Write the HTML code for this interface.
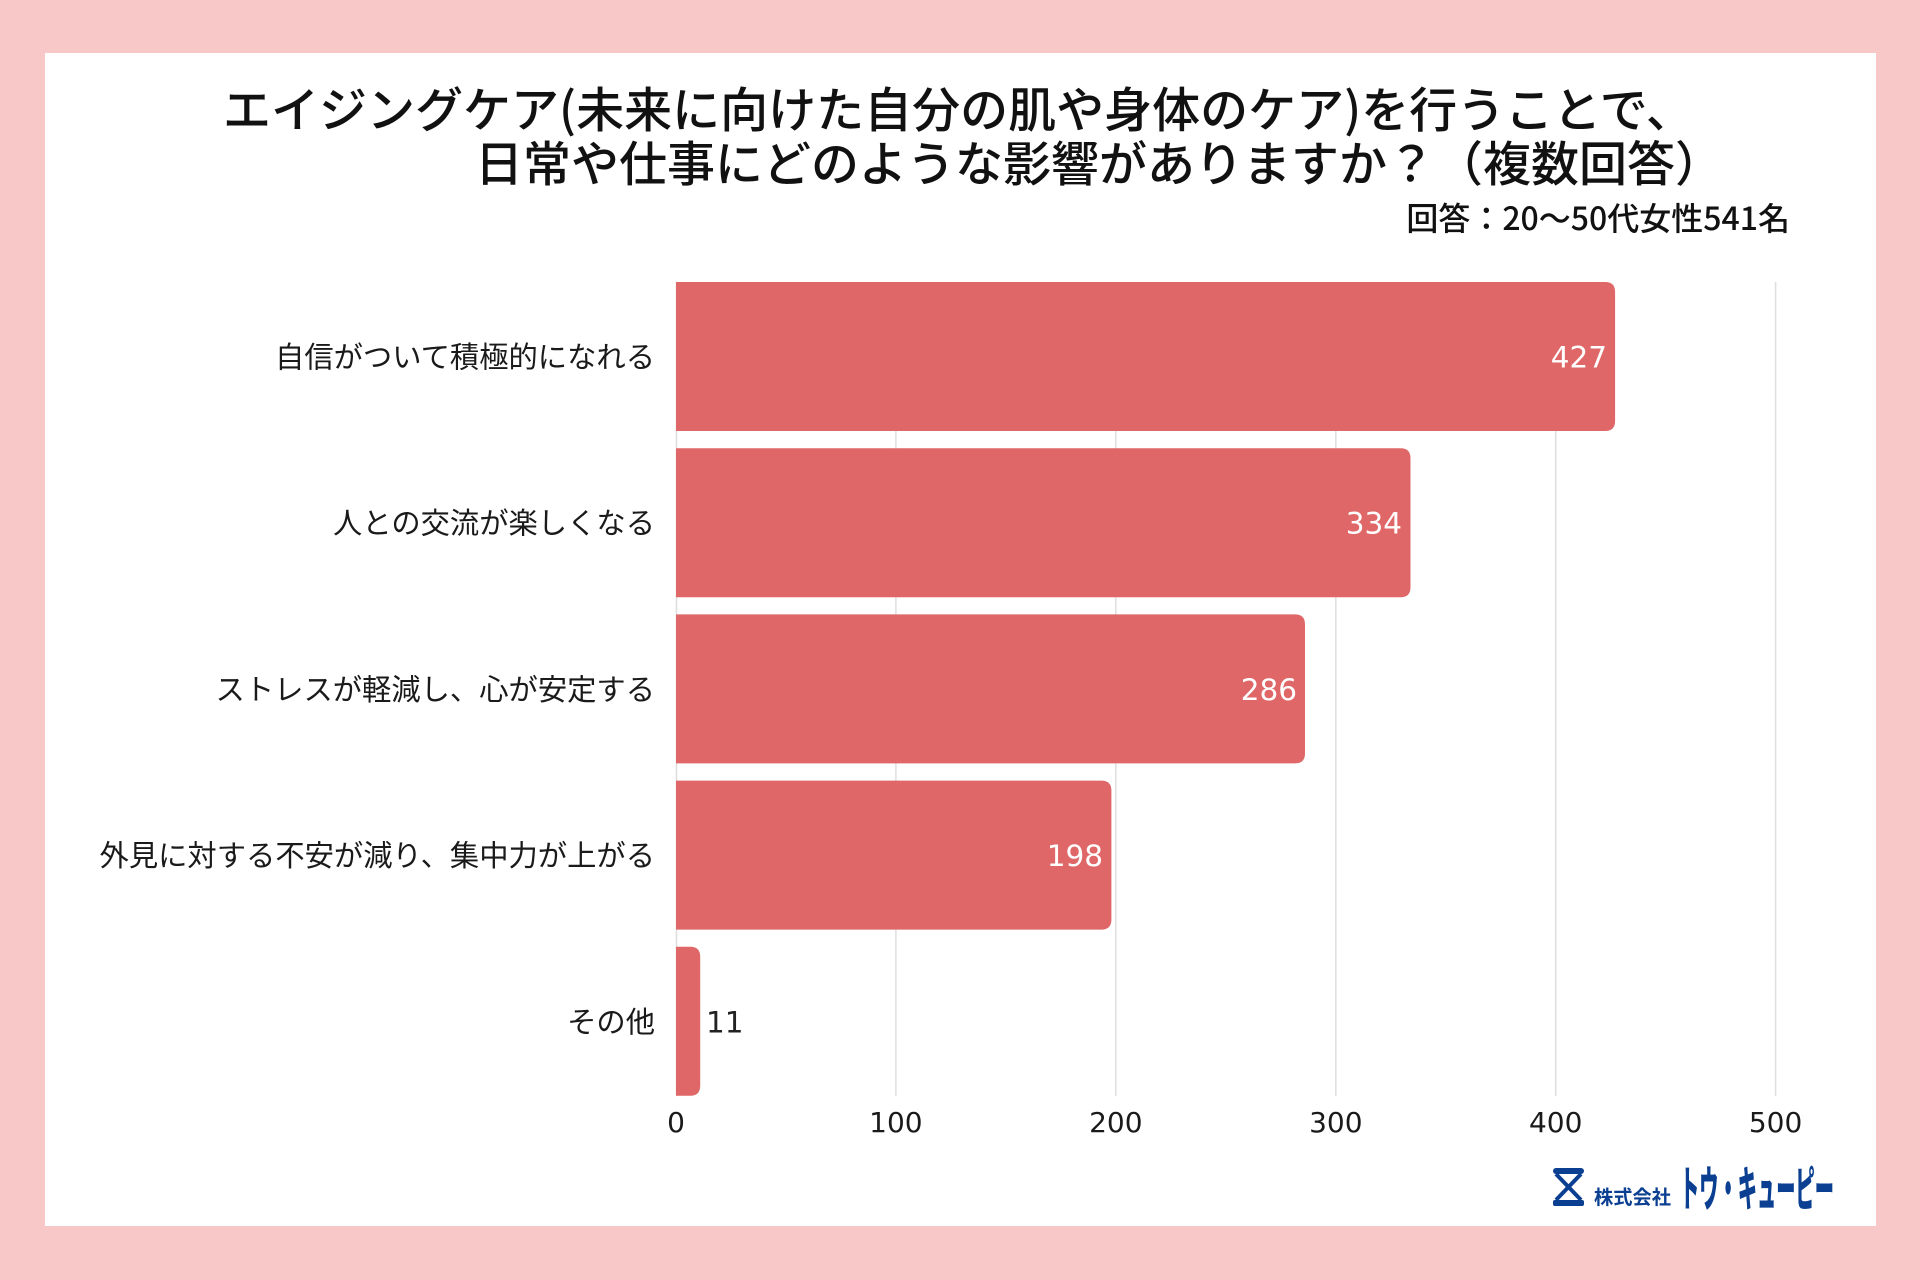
<!DOCTYPE html>
<html>
<head>
<meta charset="utf-8">
<style>
  html, body { margin: 0; padding: 0; background: #F8C8C9; }
  svg { display: block; }
  text { font-family: "Liberation Sans", "Noto Sans CJK JP", sans-serif; }
  .jp { font-family: "Noto Sans CJK JP", "Liberation Sans", sans-serif; }
  .num { font-family: "DejaVu Sans", "Liberation Sans", sans-serif; }
</style>
</head>
<body>
<svg width="1920" height="1280" viewBox="0 0 1920 1280" xmlns="http://www.w3.org/2000/svg">
  <rect x="0" y="0" width="1920" height="1280" fill="#F8C8C9"/>
  <rect x="45" y="53" width="1831" height="1173" fill="#FFFFFF"/>

  <!-- Title -->
  <text class="jp" x="223" y="127" font-size="48" font-weight="500" fill="#111">エイジングケア(未来に向けた自分の肌や身体のケア)を行うことで、</text>
  <text class="jp" x="475" y="181" font-size="48" font-weight="500" fill="#111">日常や仕事にどのような影響がありますか？（複数回答）</text>
  <text class="jp" x="1790" y="230" font-size="32" font-weight="500" fill="#111" text-anchor="end">回答：20〜50代女性541名</text>

  <!-- Gridlines -->
  <g stroke="#DEDEDE" stroke-width="1.5">
    <line x1="676.5" y1="282" x2="676.5" y2="1096"/>
    <line x1="895.9" y1="282" x2="895.9" y2="1096"/>
    <line x1="1115.8" y1="282" x2="1115.8" y2="1096"/>
    <line x1="1335.8" y1="282" x2="1335.8" y2="1096"/>
    <line x1="1555.7" y1="282" x2="1555.7" y2="1096"/>
    <line x1="1775.6" y1="282" x2="1775.6" y2="1096"/>
  </g>

  <!-- Bars -->
  <g fill="#DF6767">
    <path d="M676,282 H1605.1 Q1615.1,282 1615.1,292 V421 Q1615.1,431 1605.1,431 H676 Z"/>
    <path d="M676,448.2 H1400.5 Q1410.5,448.2 1410.5,458.2 V587.2 Q1410.5,597.2 1400.5,597.2 H676 Z"/>
    <path d="M676,614.4 H1295 Q1305,614.4 1305,624.4 V753.4 Q1305,763.4 1295,763.4 H676 Z"/>
    <path d="M676,780.6 H1101.4 Q1111.4,780.6 1111.4,790.6 V919.6 Q1111.4,929.6 1101.4,929.6 H676 Z"/>
    <path d="M676,946.8 H690.2 Q700.2,946.8 700.2,956.8 V1085.8 Q700.2,1095.8 690.2,1095.8 H676 Z"/>
  </g>

  <!-- Value labels -->
  <g font-size="29.5" font-weight="400">
    <text class="num" x="1607" y="367.5" fill="#FFFFFF" text-anchor="end">427</text>
    <text class="num" x="1402" y="533.7" fill="#FFFFFF" text-anchor="end">334</text>
    <text class="num" x="1297" y="699.9" fill="#FFFFFF" text-anchor="end">286</text>
    <text class="num" x="1103" y="866.1" fill="#FFFFFF" text-anchor="end">198</text>
    <text class="num" x="706" y="1032.3" fill="#222222">11</text>
  </g>

  <!-- Category labels -->
  <g font-size="29.3" font-weight="400" fill="#1a1a1a" text-anchor="end">
    <text class="jp" x="655" y="367.5">自信がついて積極的になれる</text>
    <text class="jp" x="655" y="533.7">人との交流が楽しくなる</text>
    <text class="jp" x="655" y="699.9">ストレスが軽減し、心が安定する</text>
    <text class="jp" x="655" y="866.1">外見に対する不安が減り、集中力が上がる</text>
    <text class="jp" x="655" y="1032.3">その他</text>
  </g>

  <!-- X axis tick labels -->
  <g font-size="28" font-weight="400" fill="#1a1a1a" text-anchor="middle">
    <text class="num" x="676" y="1132">0</text>
    <text class="num" x="895.9" y="1132">100</text>
    <text class="num" x="1115.8" y="1132">200</text>
    <text class="num" x="1335.8" y="1132">300</text>
    <text class="num" x="1555.7" y="1132">400</text>
    <text class="num" x="1775.6" y="1132">500</text>
  </g>

  <!-- Logo -->
  <g fill="#0B3F91" stroke="none">
    <rect x="1553" y="1168" width="31" height="6" rx="3"/>
    <rect x="1553" y="1200" width="31" height="6" rx="2"/>
    <path d="M1556,1174 L1581,1200" stroke="#0B3F91" stroke-width="4" fill="none"/>
    <path d="M1581,1174 L1556,1200" stroke="#0B3F91" stroke-width="4" fill="none"/>
  </g>
  <text class="jp" x="1594" y="1204" font-size="19.5" font-weight="700" fill="#0B3F91" textLength="77" lengthAdjust="spacingAndGlyphs">株式会社</text>
  <text class="jp" x="1680" y="1206" font-size="48" font-weight="900" fill="#0B3F91" textLength="154" lengthAdjust="spacingAndGlyphs">トウ・キューピー</text>
</svg>
</body>
</html>
